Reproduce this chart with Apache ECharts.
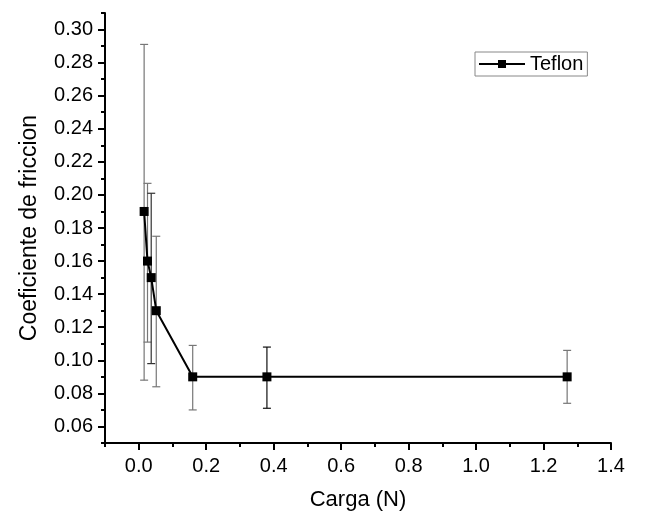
<!DOCTYPE html>
<html>
<head>
<meta charset="utf-8">
<script src="https://cdn.jsdelivr.net/npm/echarts@6/dist/echarts.min.js"></script>
<style>html,body{margin:0;padding:0;background:#fff}#c{width:647px;height:517px}</style>
</head>
<body>
<div id="c"></div>
<script>
const loads = [0.016, 0.026, 0.037, 0.052, 0.16, 0.38, 1.27];
const friction = [0.19, 0.16, 0.15, 0.13, 0.09, 0.09, 0.09];
const errHigh = [0.291, 0.207, 0.201, 0.175, 0.109, 0.108, 0.106];
const errLow = [0.088, 0.111, 0.098, 0.084, 0.070, 0.071, 0.074];
const xMajor = [0, 0.2, 0.4, 0.6, 0.8, 1.0, 1.2, 1.4];
const xMinor = [-0.1, 0.1, 0.3, 0.5, 0.7, 0.9, 1.1, 1.3];
const yMajor = [0.06, 0.08, 0.10, 0.12, 0.14, 0.16, 0.18, 0.20, 0.22, 0.24, 0.26, 0.28, 0.30];
const yMinor = [0.05, 0.07, 0.09, 0.11, 0.13, 0.15, 0.17, 0.19, 0.21, 0.23, 0.25, 0.27, 0.29, 0.31];
const seriesName = 'Teflon';

const FONT = 'Liberation Sans';
const chart = echarts.init(document.getElementById('c'), null, {renderer: 'canvas'});
const pts = loads.map((x, i) => [x, friction[i]]);
const errData = loads.map((x, i) => [x, errLow[i], errHigh[i]]);
const errColors = ['#777', '#777', '#333', '#777', '#777', '#111', '#777'];

chart.setOption({
  animation: false,
  grid: {left: 105, right: 36, top: 13, bottom: 74},
  legend: {
    data: [seriesName],
    left: 475, top: 52,
    padding: [2, 4, 2, 3],
    borderColor: '#888', borderWidth: 1, borderRadius: 0,
    itemWidth: 46, itemHeight: 10, itemGap: 4,
    textStyle: {fontFamily: FONT, fontSize: 20, color: '#000'}
  },
  xAxis: [{
    type: 'value', min: -0.1, max: 1.4,
    axisLine: {show: true, onZero: false, lineStyle: {color: '#000', width: 2}},
    axisTick: {show: true, length: 7, lineStyle: {color: '#000', width: 2}, customValues: xMajor},
    axisLabel: {customValues: xMajor, margin: 13, fontFamily: FONT, fontSize: 20, color: '#000',
      formatter: v => v.toFixed(1)},
    splitLine: {show: false},
    name: 'Carga (N)', nameLocation: 'middle', nameGap: 46,
    nameTextStyle: {fontFamily: FONT, fontSize: 22, color: '#000'}
  }, {
    type: 'value', min: -0.1, max: 1.4, position: 'bottom',
    axisLine: {show: false, onZero: false},
    axisTick: {show: true, length: 4, lineStyle: {color: '#000', width: 2}, customValues: xMinor},
    axisLabel: {show: false}, splitLine: {show: false}
  }],
  yAxis: [{
    type: 'value', min: 0.05, max: 0.31,
    axisLine: {show: true, onZero: false, lineStyle: {color: '#000', width: 2}},
    axisTick: {show: true, length: 7, lineStyle: {color: '#000', width: 2}, customValues: yMajor},
    axisLabel: {customValues: yMajor, margin: 12, fontFamily: FONT, fontSize: 20, color: '#000',
      formatter: v => v.toFixed(2)},
    splitLine: {show: false},
    name: 'Coeficiente de friccion', nameLocation: 'middle', nameGap: 64,
    nameTextStyle: {fontFamily: FONT, fontSize: 23, color: '#000'}
  }, {
    type: 'value', min: 0.05, max: 0.31, position: 'left',
    axisLine: {show: false, onZero: false},
    axisTick: {show: true, length: 4, lineStyle: {color: '#000', width: 2}, customValues: yMinor},
    axisLabel: {show: false}, splitLine: {show: false}
  }],
  series: [{
    type: 'custom',
    name: 'err',
    z: 1,
    silent: true,
    data: errData,
    encode: {x: 0, y: [1, 2]},
    renderItem: function (params, api) {
      const x = api.value(0);
      const lo = api.coord([x, api.value(1)]);
      const hi = api.coord([x, api.value(2)]);
      const cw = 4;
      const col = errColors[params.dataIndex];
      const st = {stroke: col, lineWidth: 1.2};
      return {type: 'group', children: [
        {type: 'line', shape: {x1: hi[0], y1: hi[1], x2: lo[0], y2: lo[1]}, style: st},
        {type: 'line', shape: {x1: hi[0] - cw, y1: hi[1], x2: hi[0] + cw, y2: hi[1]}, style: st},
        {type: 'line', shape: {x1: lo[0] - cw, y1: lo[1], x2: lo[0] + cw, y2: lo[1]}, style: st}
      ]};
    }
  }, {
    type: 'line',
    name: seriesName,
    z: 3,
    data: pts,
    symbol: 'rect', symbolSize: 9,
    lineStyle: {color: '#000', width: 2},
    itemStyle: {color: '#000'}
  }]
});
</script>
</body>
</html>
